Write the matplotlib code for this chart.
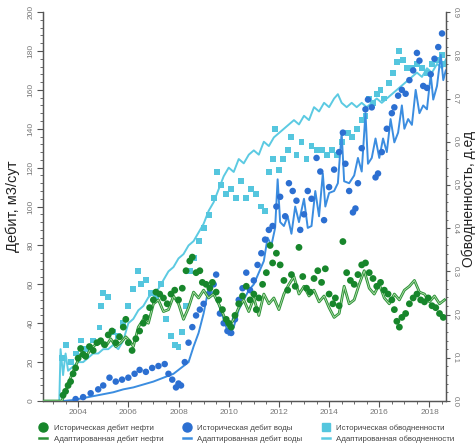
import matplotlib
matplotlib.use("Agg")
import matplotlib.pyplot as plt
from matplotlib.lines import Line2D
from matplotlib.ticker import MultipleLocator, FormatStrFormatter

# ---------------- data ----------------
oil_adapt_t = [2002.6, 2003.35, 2003.5, 2003.7, 2003.9, 2004.1, 2004.3, 2004.5, 2004.7, 2004.9,
               2005.1, 2005.3, 2005.5, 2005.7, 2005.9, 2006.05, 2006.2, 2006.4, 2006.6, 2006.8,
               2007.0, 2007.2, 2007.4, 2007.6, 2007.8, 2008.0, 2008.2, 2008.4, 2008.6, 2008.8,
               2009.0, 2009.2, 2009.4, 2009.6, 2009.8, 2010.0, 2010.2, 2010.4, 2010.6, 2010.8,
               2011.0, 2011.2, 2011.4, 2011.6, 2011.8, 2012.0, 2012.2, 2012.4, 2012.6, 2012.8,
               2013.0, 2013.2, 2013.4, 2013.6, 2013.8, 2014.0, 2014.2, 2014.4, 2014.6, 2014.8,
               2015.0, 2015.2, 2015.4, 2015.6, 2015.8, 2016.0, 2016.2, 2016.4, 2016.6, 2016.8,
               2017.0, 2017.2, 2017.4, 2017.6, 2017.8, 2018.0, 2018.2, 2018.4, 2018.6]
oil_adapt_v = [0, 0, 5, 12, 18, 24, 22, 27, 29, 30,
               28, 32, 28, 30, 33, 31, 28, 38, 42, 40,
               50, 52, 46, 47, 54, 50, 42, 48, 56, 53,
               57, 53, 55, 50, 44, 38, 42, 48, 52, 46,
               53, 44, 55, 50, 53, 47, 55, 60, 64, 55,
               59, 54, 57, 51, 54, 48, 43, 45, 59, 50,
               52, 60, 67, 58, 55, 60, 53, 50, 55, 52,
               57, 59, 62, 56, 55, 51, 54, 50, 52]

oil_hist_t = [2003.4, 2003.5, 2003.6, 2003.7, 2003.8, 2003.9, 2004.0, 2004.1, 2004.2, 2004.3,
              2004.45, 2004.6, 2004.75, 2004.9, 2005.05, 2005.2, 2005.35, 2005.5, 2005.65, 2005.8,
              2005.9, 2006.0, 2006.15, 2006.3, 2006.45, 2006.6, 2006.7, 2006.85, 2007.0, 2007.1,
              2007.25, 2007.4, 2007.55, 2007.7, 2007.85, 2008.0, 2008.15, 2008.3, 2008.45, 2008.55,
              2008.7, 2008.85, 2008.95, 2009.1, 2009.25, 2009.35, 2009.5, 2009.6, 2009.75, 2009.9,
              2010.0, 2010.1, 2010.25, 2010.4, 2010.55, 2010.7, 2010.85, 2011.0, 2011.1, 2011.2,
              2011.35, 2011.5, 2011.65, 2011.75, 2011.9, 2012.05, 2012.2, 2012.35, 2012.5, 2012.65,
              2012.8, 2012.95, 2013.1, 2013.25, 2013.4, 2013.55, 2013.7, 2013.85, 2014.0, 2014.15,
              2014.25, 2014.4, 2014.55, 2014.7, 2014.85, 2015.0, 2015.15, 2015.3, 2015.45, 2015.6,
              2015.75, 2015.9, 2016.05, 2016.2, 2016.35, 2016.5, 2016.6, 2016.7, 2016.8, 2016.9,
              2017.05, 2017.2, 2017.35, 2017.5, 2017.65, 2017.8, 2017.95, 2018.1, 2018.25, 2018.4,
              2018.55]
oil_hist_v = [3, 5, 8, 10, 14, 17, 22, 27, 24, 23,
              28, 26, 30, 31, 29, 34, 36, 30, 33, 38,
              42, 30, 26, 32, 36, 40, 43, 48, 52, 56,
              55, 53, 50, 55, 57, 52, 58, 67, 72, 74,
              66, 67, 61, 60, 58, 61, 56, 52, 47, 42,
              40, 38, 44, 50, 54, 59, 52, 55, 47, 53,
              60, 66, 80, 71, 76, 70, 62, 57, 65, 59,
              79, 64, 58, 56, 63, 67, 61, 68, 55, 50,
              53, 49, 82, 66, 62, 60, 65, 70, 71, 66,
              63, 59, 61, 57, 55, 52, 47, 41, 38, 43,
              45, 50, 53, 55, 52, 51, 53, 49, 48, 45,
              43]

water_adapt_t = [2003.4, 2003.8, 2004.2, 2004.6, 2005.0, 2005.4, 2005.8, 2006.2, 2006.6, 2007.0,
                 2007.4, 2007.8, 2008.1, 2008.4, 2008.6, 2008.8, 2009.0, 2009.2, 2009.4, 2009.6,
                 2009.8, 2010.0, 2010.2, 2010.4, 2010.6, 2010.8, 2011.0, 2011.2, 2011.4, 2011.55,
                 2011.7, 2011.85, 2011.95, 2012.05, 2012.2, 2012.35, 2012.5, 2012.65, 2012.8, 2013.0,
                 2013.15, 2013.3, 2013.45, 2013.6, 2013.75, 2013.85, 2014.0, 2014.2, 2014.35, 2014.5,
                 2014.6, 2014.8, 2015.0, 2015.15, 2015.3, 2015.45, 2015.55, 2015.7, 2015.85, 2016.0,
                 2016.15, 2016.3, 2016.45, 2016.6, 2016.75, 2016.9, 2017.0, 2017.15, 2017.3, 2017.45,
                 2017.6, 2017.75, 2017.9, 2018.05, 2018.15, 2018.3, 2018.45, 2018.55, 2018.65]
water_adapt_v = [0, 0.5, 1.5, 2.5, 3.5, 4.5, 6, 7, 8.5, 10,
                 12, 14, 17, 20, 28, 35, 45, 58, 55, 50,
                 42, 34, 38, 47, 52, 57, 60, 66, 72, 84,
                 80, 89, 114, 92, 90, 95, 86, 100, 92, 104,
                 89, 90, 108, 95, 117, 100, 107, 108, 112, 138,
                 113, 112, 116, 125, 118, 148, 122, 125, 135, 125,
                 135, 128, 145, 133, 138, 152, 140, 145, 142, 160,
                 148, 152, 150, 168, 155, 162, 178, 165, 170]

water_hist_t = [2003.9, 2004.2, 2004.5, 2004.8, 2005.0, 2005.25, 2005.5, 2005.75, 2006.0, 2006.25,
                2006.45, 2006.7, 2006.95, 2007.2, 2007.45, 2007.6, 2007.75, 2007.9, 2008.0, 2008.1,
                2008.25, 2008.4, 2008.55, 2008.7, 2008.85, 2009.0, 2009.2, 2009.4, 2009.5, 2009.65,
                2009.8, 2009.95, 2010.1, 2010.25, 2010.4, 2010.55, 2010.7, 2010.85, 2011.0, 2011.15,
                2011.3, 2011.45, 2011.6, 2011.75, 2011.9, 2012.05, 2012.25, 2012.4, 2012.55, 2012.7,
                2012.85, 2013.0, 2013.15, 2013.3, 2013.5, 2013.65, 2013.8, 2014.0, 2014.2, 2014.4,
                2014.55, 2014.65, 2014.8, 2014.95, 2015.05, 2015.15, 2015.3, 2015.45, 2015.55, 2015.7,
                2015.85, 2015.95, 2016.1, 2016.3, 2016.5, 2016.6, 2016.75, 2016.9, 2017.05, 2017.2,
                2017.35, 2017.5, 2017.6, 2017.75, 2017.9, 2018.05, 2018.2, 2018.35, 2018.5]
water_hist_v = [1, 2, 4, 6, 8, 12, 10, 11, 12, 14,
                16, 15, 17, 18, 19, 14, 11, 7, 9, 8,
                20, 30, 38, 44, 47, 50, 55, 60, 65, 45,
                40, 36, 35, 42, 52, 58, 66, 57, 62, 70,
                76, 83, 88, 90, 100, 105, 95, 112, 108, 103,
                88, 96, 108, 104, 125, 118, 93, 110, 119, 128,
                138, 122, 108, 97, 99, 112, 130, 150, 155, 151,
                115, 117, 128, 140, 148, 151, 157, 160, 158, 165,
                170, 179, 175, 162, 161, 168, 176, 182, 189]

wc_adapt_t = [2002.6, 2003.25, 2003.3, 2003.4, 2003.5, 2003.6, 2003.8, 2004.0, 2004.2, 2004.4,
              2004.6, 2004.8, 2005.0, 2005.2, 2005.4, 2005.6, 2005.8, 2006.0, 2006.2, 2006.4,
              2006.6, 2006.8, 2007.0, 2007.2, 2007.4, 2007.6, 2007.8, 2008.0, 2008.2, 2008.4,
              2008.6, 2008.8, 2009.0, 2009.2, 2009.4, 2009.6, 2009.8, 2010.0, 2010.2, 2010.4,
              2010.6, 2010.8, 2011.0, 2011.2, 2011.4, 2011.6, 2011.8, 2012.0, 2012.2, 2012.4,
              2012.6, 2012.8, 2013.0, 2013.2, 2013.4, 2013.6, 2013.8, 2014.0, 2014.2, 2014.35,
              2014.5, 2014.7, 2014.9, 2015.1, 2015.3, 2015.5, 2015.7, 2015.9, 2016.1, 2016.3,
              2016.5, 2016.7, 2016.9, 2017.1, 2017.3, 2017.5, 2017.7, 2017.9, 2018.1, 2018.3,
              2018.5, 2018.65]
wc_adapt_v = [0, 0, 0.12, 0.06, 0.11, 0.07, 0.08, 0.09, 0.09, 0.10,
              0.11, 0.11, 0.12, 0.12, 0.13, 0.12, 0.14, 0.18, 0.19, 0.21,
              0.22, 0.24, 0.25, 0.26, 0.28, 0.30, 0.31, 0.33, 0.34, 0.36,
              0.37, 0.39, 0.41, 0.44, 0.46, 0.49, 0.52, 0.54, 0.53, 0.56,
              0.55, 0.57, 0.58, 0.57, 0.60, 0.59, 0.61, 0.62, 0.63, 0.64,
              0.65, 0.64, 0.66, 0.65, 0.68, 0.67, 0.69, 0.68, 0.70, 0.71,
              0.69, 0.68, 0.69, 0.68, 0.69, 0.68, 0.69, 0.70, 0.69, 0.70,
              0.71, 0.72, 0.73, 0.74, 0.75, 0.76, 0.75, 0.77, 0.76, 0.78,
              0.77, 0.79]

wc_hist_t = [2003.35, 2003.5, 2003.7, 2003.9, 2004.1, 2004.3, 2004.6, 2004.85, 2004.9, 2005.0,
             2005.2, 2005.4, 2005.6, 2005.8, 2006.0, 2006.2, 2006.4, 2006.5, 2006.7, 2006.9,
             2007.1, 2007.3, 2007.5, 2007.7, 2007.85, 2008.0, 2008.15, 2008.3, 2008.45, 2008.6,
             2008.8, 2009.0, 2009.2, 2009.4, 2009.55, 2009.7, 2009.9, 2010.1, 2010.3, 2010.5,
             2010.7, 2010.9, 2011.1, 2011.3, 2011.45, 2011.6, 2011.75, 2011.85, 2012.0, 2012.15,
             2012.35, 2012.5, 2012.7, 2012.9, 2013.1, 2013.3, 2013.5, 2013.7, 2013.9, 2014.1,
             2014.3, 2014.5, 2014.75, 2014.9, 2015.1, 2015.3, 2015.45, 2015.6, 2015.75, 2015.9,
             2016.05, 2016.2, 2016.4, 2016.55, 2016.7, 2016.8, 2016.95, 2017.1, 2017.3, 2017.5,
             2017.7, 2017.9, 2018.1, 2018.3, 2018.5, 2018.6]
wc_hist_v = [0.10, 0.13, 0.09, 0.11, 0.14, 0.12, 0.14, 0.17, 0.22, 0.25,
             0.24, 0.16, 0.15, 0.18, 0.22, 0.26, 0.30, 0.27, 0.28, 0.25,
             0.24, 0.27, 0.19, 0.15, 0.13, 0.125, 0.16, 0.22, 0.30, 0.33,
             0.37, 0.40, 0.43, 0.47, 0.53, 0.50, 0.48, 0.49, 0.47, 0.51,
             0.47, 0.49, 0.48, 0.45, 0.44, 0.53, 0.56, 0.63, 0.535, 0.56,
             0.58, 0.61, 0.57, 0.60, 0.56, 0.59, 0.58, 0.58, 0.57, 0.58,
             0.57, 0.60, 0.62, 0.61, 0.63, 0.65, 0.66, 0.70, 0.69, 0.71,
             0.72, 0.70, 0.735, 0.76, 0.785, 0.81, 0.79, 0.77, 0.77, 0.78,
             0.77, 0.76, 0.78, 0.79, 0.80, 0.78]

year_ticks = [2004, 2006, 2008, 2010, 2012, 2014, 2016, 2018]

legend_labels = ["Историческая дебит нефти", "Адаптированная дебит нефти",
                 "Историческая дебит воды", "Адаптированная дебит воды",
                 "Историческая обводненности", "Адаптированная обводненности"]

# ---------------- style ----------------
GREEN_DOT = "#17862b"
GREEN_LINE = "#2a9136"
GREEN_CORE = "#b7e0ae"
BLUE_DOT = "#2c6fd1"
BLUE_LINE = "#3b8de0"
LBLUE_DOT = "#55c6de"
LBLUE_LINE = "#5ccae2"
AX_COL = "#555555"

plt.rcParams['font.family'] = ['Liberation Sans', 'DejaVu Sans']

fig = plt.figure(figsize=(4.75, 4.44), dpi=100)
ax1 = fig.add_axes([0.0905, 0.0968, 0.848, 0.876])
ax2 = ax1.twinx()

# watercut on right axis (drawn beneath)
ax2.plot(wc_adapt_t, wc_adapt_v, color=LBLUE_LINE, lw=1.4, zorder=2)
ax2.scatter(wc_hist_t, wc_hist_v, s=18, marker='s', color=LBLUE_DOT, edgecolors='none', zorder=3)

# rates on left axis
ax1.plot(water_adapt_t, water_adapt_v, color=BLUE_LINE, lw=1.4, zorder=2)
ax1.scatter(water_hist_t, water_hist_v, s=22, color=BLUE_DOT, edgecolors='none', zorder=3)
ax1.plot(oil_adapt_t, oil_adapt_v, color=GREEN_LINE, lw=2.0, zorder=4)
ax1.plot(oil_adapt_t, oil_adapt_v, color=GREEN_CORE, lw=0.6, zorder=4)
ax1.scatter(oil_hist_t, oil_hist_v, s=24, color=GREEN_DOT, edgecolors='none', zorder=5)

ax1.set_zorder(ax2.get_zorder() + 1)
ax1.patch.set_visible(False)

ax1.set_xlim(2002.6, 2018.65)
ax1.set_ylim(0, 200)
ax2.set_ylim(0, 0.9)

ax1.set_xticks(year_ticks)
ax1.set_xticklabels([str(y) for y in year_ticks])
ax1.xaxis.set_minor_locator(MultipleLocator(0.5))
ax1.yaxis.set_major_locator(MultipleLocator(20))
ax1.yaxis.set_minor_locator(MultipleLocator(4))
ax2.yaxis.set_major_locator(MultipleLocator(0.1))
ax2.yaxis.set_minor_locator(MultipleLocator(0.02))
ax2.yaxis.set_major_formatter(FormatStrFormatter('%.1f'))

for ax in (ax1, ax2):
    ax.spines['top'].set_visible(False)
    for sp in ax.spines.values():
        sp.set_color(AX_COL)
        sp.set_linewidth(0.9)

ax1.tick_params(axis='both', which='major', length=4, width=0.8, color=AX_COL,
                labelsize=6, labelcolor="#777777", pad=2)
ax1.tick_params(axis='both', which='minor', length=2, width=0.6, color=AX_COL)
ax1.tick_params(axis='y', labelrotation=90)
ax2.tick_params(axis='y', which='major', length=3, width=0.8, color=AX_COL,
                labelsize=5.8, labelcolor="#777777", labelrotation=270, pad=1)
ax2.tick_params(axis='y', which='minor', length=1.5, width=0.6, color=AX_COL)
for lab in ax1.get_yticklabels() + ax2.get_yticklabels():
    lab.set_va('center')

ax1.set_ylabel("Дебит, м3/сут", fontsize=10.5, color="#222222")
ax1.yaxis.set_label_coords(-0.058, 0.5)
ax2.set_ylabel("Обводненность, д.ед", fontsize=10, color="#222222")
ax2.yaxis.set_label_coords(1.04, 0.52)

handles = [
    Line2D([], [], marker='o', ls='none', color=GREEN_DOT, markersize=6.5),
    Line2D([], [], color=GREEN_LINE, lw=1.8),
    Line2D([], [], marker='o', ls='none', color=BLUE_DOT, markersize=6.5),
    Line2D([], [], color=BLUE_LINE, lw=1.8),
    Line2D([], [], marker='s', ls='none', color=LBLUE_DOT, markersize=5.5),
    Line2D([], [], color=LBLUE_LINE, lw=1.8),
]
fig.legend(handles, legend_labels, loc='lower left', ncol=3, frameon=False,
           fontsize=5.7, labelcolor="#444444", handlelength=1.0, handletextpad=0.8,
           columnspacing=2.5, labelspacing=0.45, borderaxespad=0,
           bbox_to_anchor=(0.076, -0.004))

fig.savefig("out.png", dpi=100)
